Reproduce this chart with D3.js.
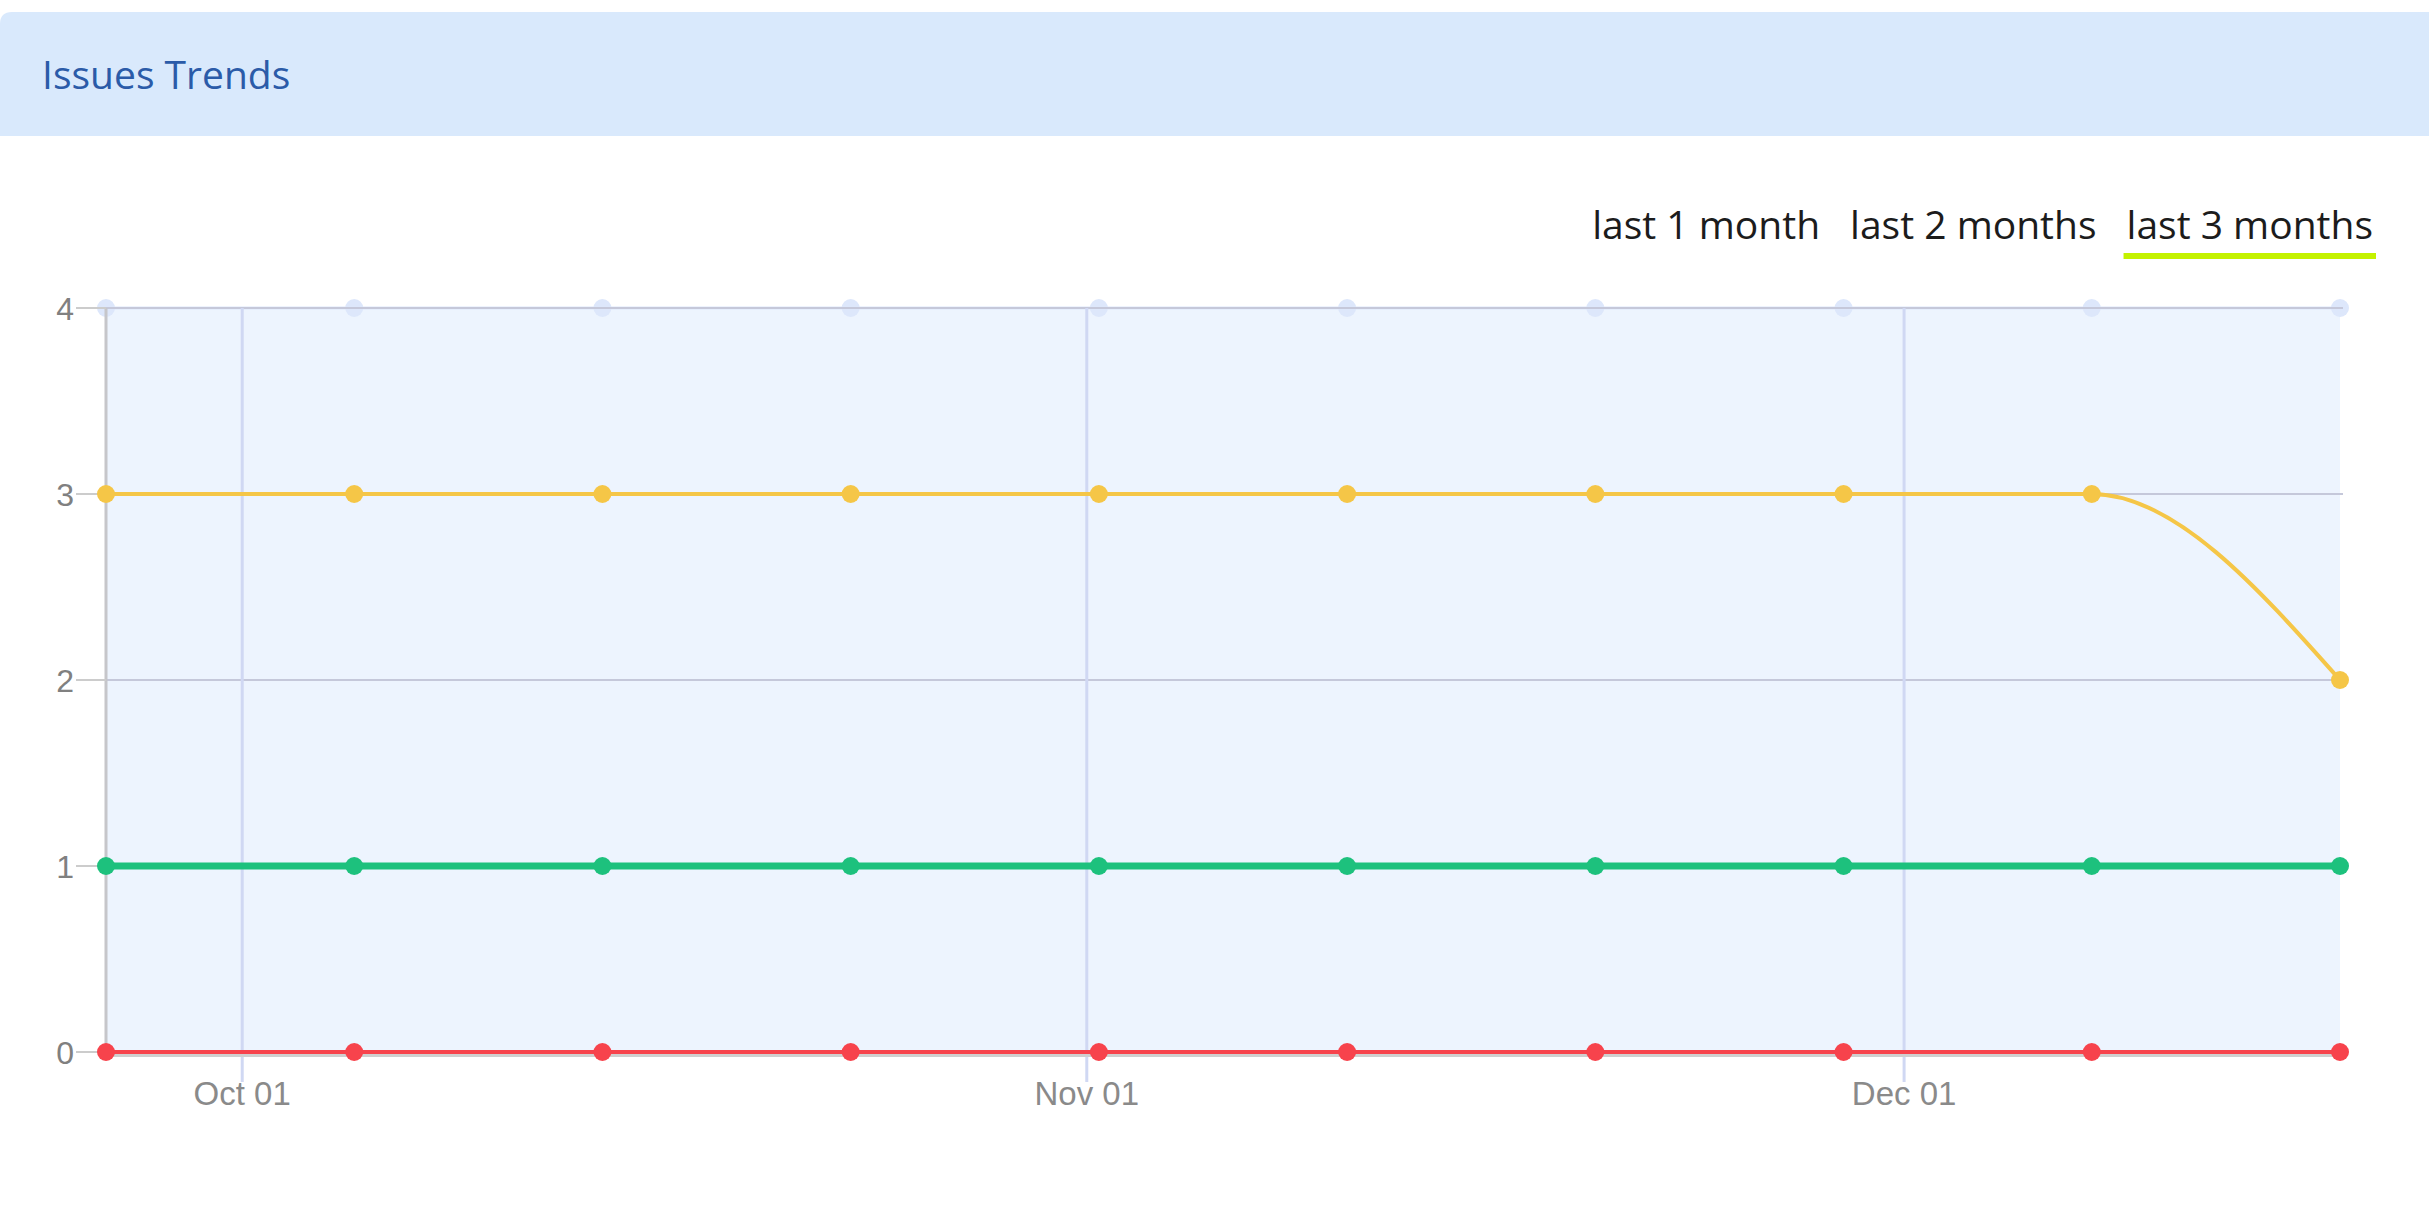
<!DOCTYPE html>
<html>
<head>
<meta charset="utf-8">
<script src="https://cdn.jsdelivr.net/npm/d3@7"></script>
<style>
  html, body { margin: 0; padding: 0; background: #ffffff; }
  svg { display: block; }
</style>
</head>
<body>
<svg id="chart" width="2429" height="1226"></svg>
<script>
// Sample timestamps (UTC) for the last 3 months view
const sampleDates = [
  "2019-09-26T00:00:00Z", "2019-10-05T02:40:00Z", "2019-10-14T05:20:00Z",
  "2019-10-23T08:00:00Z", "2019-11-01T10:40:00Z", "2019-11-10T13:20:00Z",
  "2019-11-19T16:00:00Z", "2019-11-28T18:40:00Z", "2019-12-07T21:20:00Z",
  "2019-12-17T00:00:00Z"
];
// Issue counts per series
const totalIssues    = [4, 4, 4, 4, 4, 4, 4, 4, 4, 4];
const openIssues     = [3, 3, 3, 3, 3, 3, 3, 3, 3, 2];
const resolvedIssues = [1, 1, 1, 1, 1, 1, 1, 1, 1, 1];
const criticalIssues = [0, 0, 0, 0, 0, 0, 0, 0, 0, 0];
// Axis ticks
const yTicks = [0, 1, 2, 3, 4];
const monthTicks = ["2019-10-01T00:00:00Z", "2019-11-01T00:00:00Z", "2019-12-01T00:00:00Z"];
// Range selector labels
const rangeTabs = ["last 1 month", "last 2 months", "last 3 months"];
const activeTab = "last 3 months";

const svg = d3.select("#chart");
const W = 2429;

// Header band
svg.append("path")
  .attr("d", "M0,24 Q0,12 12,12 L" + W + ",12 L" + W + ",136 L0,136 Z")
  .attr("fill", "#d9e9fc");
svg.append("text")
  .attr("x", 42).attr("y", 89)
  .attr("font-family", "'Open Sans', sans-serif")
  .attr("font-size", 39)
  .attr("fill", "#2b5ba8")
  .text("Issues Trends");

// Scales
const parse = d3.isoParse;
const dates = sampleDates.map(parse);
const x = d3.scaleUtc().domain(d3.extent(dates)).range([106, 2340]);
const y = d3.scaleLinear().domain([0, 4]).range([1052, 308]);

// Plot background
svg.append("rect")
  .attr("x", x.range()[0]).attr("y", y(4))
  .attr("width", x.range()[1] - x.range()[0])
  .attr("height", y(0) - y(4))
  .attr("fill", "#edf4fe");

const line = d3.line()
  .x((d, i) => x(dates[i]))
  .y(d => y(d))
  .curve(d3.curveMonotoneX);

function drawSeries(values, color, width, r) {
  const g = svg.append("g");
  g.append("path")
    .attr("d", line(values))
    .attr("fill", "none")
    .attr("stroke", color)
    .attr("stroke-width", width);
  g.selectAll("circle").data(values).join("circle")
    .attr("cx", (d, i) => x(dates[i]))
    .attr("cy", d => y(d))
    .attr("r", r)
    .attr("fill", color);
}

// Faint total series sits under the grid
drawSeries(totalIssues, "#dde7fb", 3, 9);

// Horizontal grid
svg.append("g").selectAll("line").data(yTicks.filter(v => v > 0)).join("line")
  .attr("x1", x.range()[0]).attr("x2", x.range()[1] + 3)
  .attr("y1", d => y(d)).attr("y2", d => y(d))
  .attr("stroke", "#c5c8da").attr("stroke-width", 2);

// Vertical month grid with ticks reaching below the plot
const months = monthTicks.map(parse);
svg.append("g").selectAll("line").data(months).join("line")
  .attr("x1", d => x(d)).attr("x2", d => x(d))
  .attr("y1", y(4)).attr("y2", y(0) + 30)
  .attr("stroke", "#d0d8f3").attr("stroke-width", 3);

// Y axis
const yAxis = svg.append("g");
yAxis.append("line")
  .attr("x1", 106).attr("x2", 106).attr("y1", y(4)).attr("y2", y(0) + 2)
  .attr("stroke", "#c6c6ca").attr("stroke-width", 3);
yAxis.selectAll("line.tick").data(yTicks).join("line")
  .attr("class", "tick")
  .attr("x1", 76).attr("x2", 106)
  .attr("y1", d => y(d)).attr("y2", d => y(d))
  .attr("stroke", "#cccccc").attr("stroke-width", 2);
yAxis.selectAll("text").data(yTicks).join("text")
  .attr("x", 74).attr("y", d => y(d))
  .attr("dy", "0.36em")
  .attr("text-anchor", "end")
  .attr("font-family", "'Liberation Sans', Arial, sans-serif")
  .attr("font-size", 32)
  .attr("fill", "#808080")
  .text(d => d);

// X axis baseline
svg.append("line")
  .attr("x1", 106).attr("x2", 2340)
  .attr("y1", y(0) + 3).attr("y2", y(0) + 3)
  .attr("stroke", "#cfcfcf").attr("stroke-width", 4);

// X labels
const fmt = d3.utcFormat("%b %d");
svg.append("g").selectAll("text").data(months).join("text")
  .attr("x", d => x(d)).attr("y", 1105)
  .attr("text-anchor", "middle")
  .attr("font-family", "'Liberation Sans', Arial, sans-serif")
  .attr("font-size", 33)
  .attr("fill", "#8a8a8a")
  .text(d => fmt(d));

// Data series
drawSeries(criticalIssues, "#f7434c", 4, 9);
drawSeries(resolvedIssues, "#1dc17d", 7, 9);
drawSeries(openIssues, "#f5c647", 4, 9);

// Range tabs, right-aligned above the plot
const tabs = svg.append("g")
  .attr("font-family", "'Open Sans', sans-serif")
  .attr("font-size", 39)
  .attr("fill", "#1c1c1c");
const tabGap = 30;
let cursor = 2373;
const tabNodes = rangeTabs.map(t => tabs.append("text").attr("y", 239).text(t));
for (let i = tabNodes.length - 1; i >= 0; i--) {
  const w = tabNodes[i].node().getComputedTextLength();
  cursor -= w;
  tabNodes[i].attr("x", cursor);
  if (rangeTabs[i] === activeTab) {
    tabs.append("rect")
      .attr("x", cursor - 3).attr("y", 253)
      .attr("width", w + 6).attr("height", 6)
      .attr("fill", "#c4f200");
  }
  cursor -= tabGap;
}
</script>
</body>
</html>
